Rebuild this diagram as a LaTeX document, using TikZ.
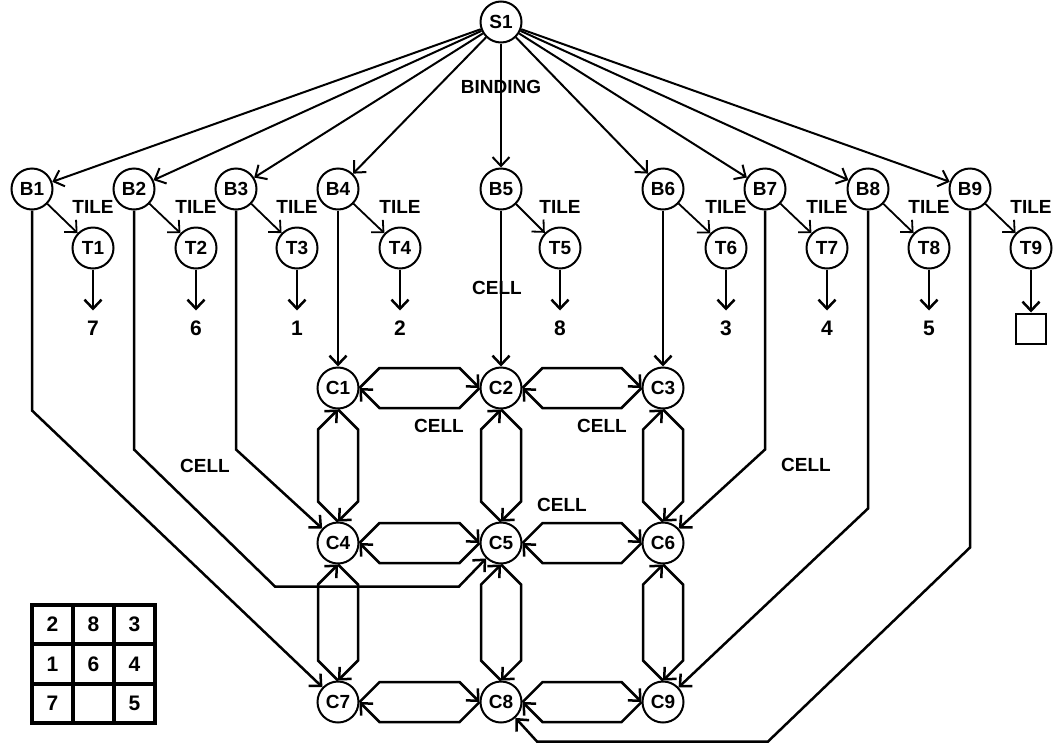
\documentclass[tikz,border=0pt]{standalone}
\usepackage{fontspec}
\setmainfont{Liberation Sans}
\usepackage{tikz}
\usetikzlibrary{arrows.meta,positioning,calc}

\tikzset{
  circ/.style={circle,draw,line width=2pt,minimum size=41pt,inner sep=0pt},
  lbl/.style={inner sep=0pt},
  val/.style={inner sep=9pt,font=\fontsize{21}{21}\selectfont\bfseries},
  blank/.style={draw,line width=2.4pt,minimum size=30pt,inner sep=0pt},
  digit/.style={font=\fontsize{21}{21}\selectfont\bfseries}
}

% two opposite arrows between neighbouring cells
\newcommand{\hlink}[2]{%
  \draw[->] (#1.east) -- ++(20,-20) -- ($(#2.west)+(-20,-20)$) -- (#2.west);
  \draw[->] (#2.west) -- ++(-20,20) -- ($(#1.east)+(20,20)$) -- (#1.east);}
\newcommand{\vlink}[2]{%
  \draw[->] (#2.north) -- ++(-20,-20) -- ($(#1.south)+(-20,20)$) -- (#1.south);
  \draw[->] (#1.south) -- ++(20,20) -- ($(#2.north)+(20,-20)$) -- (#2.north);}

\begin{document}
\begin{tikzpicture}[x=1pt,y=-1pt,line width=2.5pt,line join=miter,
  >={Straight Barb[length=9pt,width=17pt]},
  font=\fontsize{19}{19}\selectfont\bfseries]
\useasboundingbox (0,0) rectangle (1054,742);

% Root
\node[circ] (s1) at (501,22) {S1};

% Bindings
\node[circ] (b1) at (32,189) {B1};
\node[circ] (b2) at (134,189) {B2};
\node[circ] (b3) at (236,189) {B3};
\node[circ] (b4) at (338,189) {B4};
\node[circ] (b5) at (501,189) {B5};
\node[circ] (b6) at (663,189) {B6};
\node[circ] (b7) at (765,189) {B7};
\node[circ] (b8) at (868,189) {B8};
\node[circ] (b9) at (970,189) {B9};

% Tiles
\node[circ] (t1) at (93,248) {T1};
\node[circ] (t2) at (196,248) {T2};
\node[circ] (t3) at (297,248) {T3};
\node[circ] (t4) at (400,248) {T4};
\node[circ] (t5) at (560,248) {T5};
\node[circ] (t6) at (726,248) {T6};
\node[circ] (t7) at (827,248) {T7};
\node[circ] (t8) at (929,248) {T8};
\node[circ] (t9) at (1031,248) {T9};

% Tile values
\node[val,below=41pt of t1] (v1) {7};
\node[val,below=41pt of t2] (v2) {6};
\node[val,below=41pt of t3] (v3) {1};
\node[val,below=41pt of t4] (v4) {2};
\node[val,below=41pt of t5] (v5) {8};
\node[val,below=41pt of t6] (v6) {3};
\node[val,below=41pt of t7] (v7) {4};
\node[val,below=41pt of t8] (v8) {5};
\node[blank,below=43pt of t9] (v9) {};

% Cells
\node[circ] (c1) at (338,388) {C1};
\node[circ] (c2) at (501,388) {C2};
\node[circ] (c3) at (663,388) {C3};
\node[circ] (c4) at (338,543) {C4};
\node[circ] (c5) at (501,543) {C5};
\node[circ] (c6) at (663,543) {C6};
\node[circ] (c7) at (338,702) {C7};
\node[circ] (c8) at (501,702) {C8};
\node[circ] (c9) at (663,702) {C9};

% Root to bindings
\foreach \b in {b1,b2,b3,b4,b5,b6,b7,b8,b9}
  \draw[->,line width=2pt] (s1) -- (\b);
\node[lbl] (bind) at (501,87) {BINDING};

% Bindings to tiles
\draw[->,line width=1.8pt] (b1) -- (t1);
\draw[->,line width=1.8pt] (b2) -- (t2);
\draw[->,line width=1.8pt] (b3) -- (t3);
\draw[->,line width=1.8pt] (b4) -- (t4);
\draw[->,line width=1.8pt] (b5) -- (t5);
\draw[->,line width=1.8pt] (b6) -- (t6);
\draw[->,line width=1.8pt] (b7) -- (t7);
\draw[->,line width=1.8pt] (b8) -- (t8);
\draw[->,line width=1.8pt] (b9) -- (t9);
\foreach \t in {t1,t2,t3,t4,t5,t6,t7,t8,t9}
  \node[lbl] at ($(\t)+(0,-41)$) {TILE};

% Tiles to values
\draw[->] (t1) -- (v1);
\draw[->] (t2) -- (v2);
\draw[->] (t3) -- (v3);
\draw[->] (t4) -- (v4);
\draw[->] (t5) -- (v5);
\draw[->] (t6) -- (v6);
\draw[->] (t7) -- (v7);
\draw[->] (t8) -- (v8);
\draw[->] (t9) -- (v9);

% Bindings to cells
\draw[->] (b1.south) -- ++(0,200) -- (c7);
\draw[->] (b2.south) -- ++(0,239) -- ++(141,137) -- ++(184,0) -- (c5);
\draw[->] (b3.south) -- ++(0,239) -- (c4);
\draw[->] (b4) -- (c1);
\draw[->] (b5) -- (c2);
\draw[->] (b6) -- (c3);
\draw[->] (b7.south) -- ++(0,239) -- (c6);
\draw[->] (b8.south) -- ++(0,298) -- (c9);
\draw[->] (b9.south) -- ++(0,337) -- ++(-202,194) -- ++(-231,0) -- (c8);

% Cell neighbours
\hlink{c1}{c2} \hlink{c2}{c3}
\hlink{c4}{c5} \hlink{c5}{c6}
\hlink{c7}{c8} \hlink{c8}{c9}
\vlink{c1}{c4} \vlink{c4}{c7}
\vlink{c2}{c5} \vlink{c5}{c8}
\vlink{c3}{c6} \vlink{c6}{c9}

% Labels
\node[lbl] (cl1) at (497,288) {CELL};
\node[lbl] (cl2) at (205,466) {CELL};
\node[lbl] (cl3) at (806,465) {CELL};
\node[lbl] (cl4) at (439,426) {CELL};
\node[lbl] (cl5) at (602,426) {CELL};
\node[lbl] (cl6) at (562,505) {CELL};

% Board
\draw[line width=3.2pt] (32,605) rectangle (155,723);
\draw[line width=3.2pt] (73,605) -- (73,723) (114,605) -- (114,723)
  (32,644) -- (155,644) (32,684) -- (155,684);
\node[digit] (g11) at (52.5,624.5) {2};
\node[digit] (g12) at (93.5,624.5) {8};
\node[digit] (g13) at (134.5,624.5) {3};
\node[digit] (g21) at (52.5,664) {1};
\node[digit] (g22) at (93.5,664) {6};
\node[digit] (g23) at (134.5,664) {4};
\node[digit] (g31) at (52.5,703.5) {7};
\node[digit] (g33) at (134.5,703.5) {5};
\end{tikzpicture}
\end{document}
